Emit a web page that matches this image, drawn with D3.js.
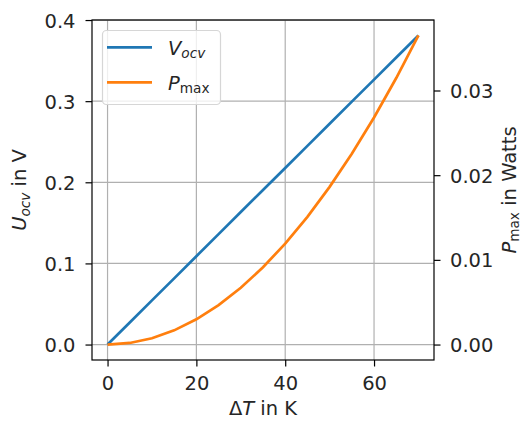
<!DOCTYPE html>
<html>
<head>
<meta charset="utf-8">
<script src="https://cdn.jsdelivr.net/npm/d3@7"></script>
<style>
  body { margin: 0; background: #fff; }
  text { font-family: "DejaVu Sans", sans-serif; fill: #262626; }
</style>
</head>
<body>
<div id="chart"></div>
<script>
// temperature difference in K
const deltaT = [0, 5, 10, 15, 20, 25, 30, 35, 40, 45, 50, 55, 60, 65, 70];
// open circuit voltage in V
const vOcv = [0, 0.0272, 0.0544, 0.0816, 0.1089, 0.1361, 0.1633, 0.1905, 0.2177,
  0.2449, 0.2721, 0.2994, 0.3266, 0.3538, 0.381];
// max power in W
const pMax = [0, 0.000186, 0.000745, 0.001676, 0.00298, 0.004656, 0.006704, 0.009125,
  0.01192, 0.015084, 0.018622, 0.022533, 0.026816, 0.031472, 0.0365];

const xTicks = [0, 20, 40, 60];
const yTicks = [0.0, 0.1, 0.2, 0.3, 0.4];
const y2Ticks = [0.00, 0.01, 0.02, 0.03];

const width = 523, height = 421;
const m = { left: 92, right: 89, top: 20, bottom: 61 };
const fs = 19.5;
const subFs = fs * 0.7;
const tick = 6.5;

const svg = d3.select("#chart").append("svg")
  .attr("width", width)
  .attr("height", height);

// matplotlib-style 5% margins
const pad = (lo, hi) => [lo - 0.05 * (hi - lo), hi + 0.05 * (hi - lo)];

const x = d3.scaleLinear()
  .domain(pad(0, d3.max(deltaT)))
  .range([m.left, width - m.right]);
const y = d3.scaleLinear()
  .domain(pad(0, d3.max(vOcv)))
  .range([height - m.bottom, m.top]);
const y2 = d3.scaleLinear()
  .domain(pad(0, d3.max(pMax)))
  .range([height - m.bottom, m.top]);

// grid
const grid = svg.append("g").attr("stroke", "#b0b0b0").attr("stroke-width", 1.2);
grid.selectAll(".gx").data(xTicks).join("line")
  .attr("x1", d => x(d)).attr("x2", d => x(d))
  .attr("y1", m.top).attr("y2", height - m.bottom);
grid.selectAll(".gy").data(yTicks).join("line")
  .attr("y1", d => y(d)).attr("y2", d => y(d))
  .attr("x1", m.left).attr("x2", width - m.right);

// lines
const lineV = d3.line().x((d, i) => x(deltaT[i])).y(d => y(d));
const lineP = d3.line().x((d, i) => x(deltaT[i])).y(d => y2(d));

svg.append("path").datum(vOcv)
  .attr("d", lineV).attr("fill", "none")
  .attr("stroke", "#1f77b4").attr("stroke-width", 2.7);
svg.append("path").datum(pMax)
  .attr("d", lineP).attr("fill", "none")
  .attr("stroke", "#ff7f0e").attr("stroke-width", 2.7);

// axes
function styleAxis(g) {
  g.select(".domain").remove();
  g.selectAll(".tick line").attr("stroke", "#000").attr("stroke-width", 1.2);
  g.selectAll(".tick text").attr("font-size", fs).attr("fill", "#262626")
    .attr("font-family", "DejaVu Sans");
}

svg.append("g")
  .attr("transform", `translate(0,${height - m.bottom})`)
  .call(d3.axisBottom(x).tickValues(xTicks).tickSize(tick).tickPadding(10))
  .call(styleAxis);

svg.append("g")
  .attr("transform", `translate(${m.left},0)`)
  .call(d3.axisLeft(y).tickValues(yTicks).tickFormat(d3.format(".1f")).tickSize(tick).tickPadding(10))
  .call(styleAxis)
  .selectAll(".tick text").attr("dy", "0.36em");

svg.append("g")
  .attr("transform", `translate(${width - m.right},0)`)
  .call(d3.axisRight(y2).tickValues(y2Ticks).tickFormat(d3.format(".2f")).tickSize(tick).tickPadding(9.5))
  .call(styleAxis)
  .selectAll(".tick text").attr("dy", "0.36em");

// frame
svg.append("rect")
  .attr("x", m.left).attr("y", m.top)
  .attr("width", width - m.left - m.right)
  .attr("height", height - m.top - m.bottom)
  .attr("fill", "none").attr("stroke", "#000").attr("stroke-width", 1.2);

// axis labels
const xl = svg.append("text")
  .attr("x", (m.left + width - m.right) / 2).attr("y", 415)
  .attr("text-anchor", "middle").attr("font-size", fs);
xl.append("tspan").text("Δ");
xl.append("tspan").attr("font-style", "italic").text("T");
xl.append("tspan").text(" in K");

const yl = svg.append("text")
  .attr("transform", `translate(26,${(m.top + height - m.bottom) / 2}) rotate(-90)`)
  .attr("text-anchor", "middle").attr("font-size", fs);
yl.append("tspan").attr("font-style", "italic").text("U");
yl.append("tspan").attr("font-style", "italic").attr("font-size", subFs).attr("dy", 4).text("ocv");
yl.append("tspan").attr("dy", -4).text(" in V");

const y2l = svg.append("text")
  .attr("transform", `translate(516,${(m.top + height - m.bottom) / 2}) rotate(-90)`)
  .attr("text-anchor", "middle").attr("font-size", fs);
y2l.append("tspan").attr("font-style", "italic").text("P");
y2l.append("tspan").attr("font-size", subFs).attr("dy", 3).text("max");
y2l.append("tspan").attr("dy", -3).text(" in Watts");

// legend
const legend = svg.append("g");
legend.append("rect")
  .attr("x", 102.5).attr("y", 30.5).attr("width", 118).attr("height", 74)
  .attr("rx", 4).attr("fill", "#fff").attr("fill-opacity", 0.8)
  .attr("stroke", "#d6d6d6").attr("stroke-width", 1.2);

const items = [
  { color: "#1f77b4", base: "V", sub: "ocv", subItalic: true },
  { color: "#ff7f0e", base: "P", sub: "max", subItalic: false }
];
items.forEach((it, i) => {
  const cy = 47.3 + i * 35;
  legend.append("line")
    .attr("x1", 107).attr("x2", 152).attr("y1", cy).attr("y2", cy)
    .attr("stroke", it.color).attr("stroke-width", 2.7);
  const t = legend.append("text")
    .attr("x", 168).attr("y", cy + 7.5).attr("font-size", fs);
  t.append("tspan").attr("font-style", "italic").text(it.base);
  t.append("tspan").attr("font-style", it.subItalic ? "italic" : "normal")
    .attr("font-size", subFs).attr("dy", 3).text(it.sub);
});
</script>
</body>
</html>
